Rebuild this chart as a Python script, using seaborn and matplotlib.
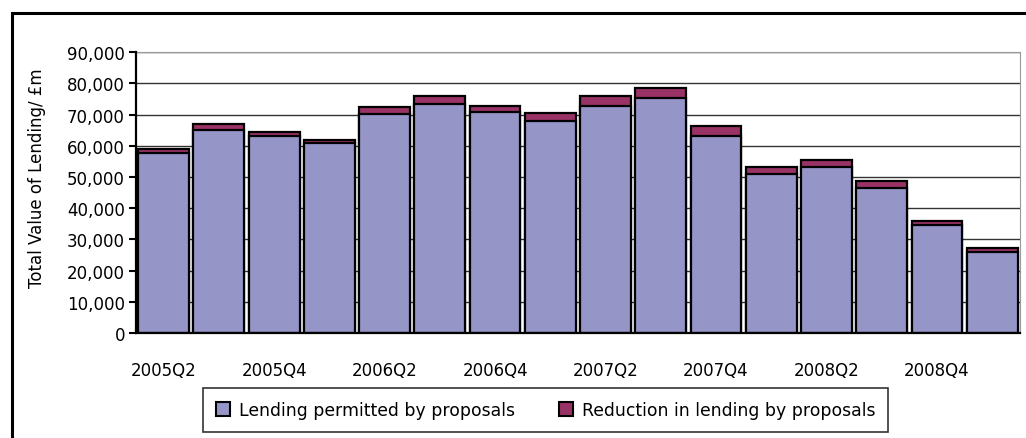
import numpy as np
import pandas as pd
import seaborn as sns
import matplotlib.pyplot as plt
from matplotlib.patches import Patch, Rectangle
from matplotlib.ticker import FuncFormatter

quarters = ["2005Q2", "2005Q3", "2005Q4", "2006Q1", "2006Q2", "2006Q3", "2006Q4", "2007Q1",
            "2007Q2", "2007Q3", "2007Q4", "2008Q1", "2008Q2", "2008Q3", "2008Q4", "2009Q1"]
permitted = [57700, 65000, 63100, 60800, 70100, 73400, 70900, 67800,
             72800, 75300, 63200, 51100, 53300, 46500, 34500, 26000]
reduction = [1200, 1900, 1300, 1200, 2200, 2500, 1900, 2600,
             3100, 3200, 3100, 2200, 2300, 2200, 1400, 1200]

df = pd.DataFrame({"quarter": quarters, "permitted": permitted, "reduction": reduction})
df["total"] = df["permitted"] + df["reduction"]

c_perm = "#9595c8"
c_red = "#993366"

sns.set_style("white")
plt.rcParams["font.family"] = ["DejaVu Sans"]
plt.rcParams["text.color"] = "black"
plt.rcParams["xtick.color"] = "black"
plt.rcParams["ytick.color"] = "black"
plt.rcParams["axes.labelcolor"] = "black"

fig = plt.figure(figsize=(10.26, 4.39), dpi=100)
ax = fig.add_axes([0.1326, 0.239, 0.994 - 0.1326, 0.879 - 0.239])

sns.barplot(data=df, x="quarter", y="total", color=c_red, edgecolor="black",
            linewidth=1.6, width=0.92, saturation=1, ax=ax, zorder=3)
sns.barplot(data=df, x="quarter", y="permitted", color=c_perm, edgecolor="black",
            linewidth=1.6, width=0.92, saturation=1, ax=ax, zorder=4)

ax.set_xlim(-0.5, len(quarters) - 0.5)
ax.set_ylim(0, 90000)
ax.set_yticks(np.arange(0, 90001, 10000))
ax.yaxis.set_major_formatter(FuncFormatter(lambda v, p: f"{int(v):,}"))
ax.yaxis.grid(True, color="#333333", lw=1, zorder=0)
ax.set_axisbelow(True)

ax.set_xticks(range(0, len(quarters), 2))
ax.set_xticklabels(quarters[::2])
ax.set_xticks(np.arange(-0.5, len(quarters), 1), minor=True)
ax.tick_params(axis="x", which="major", length=0, pad=20, labelsize=12)
ax.tick_params(axis="x", which="minor", length=6, width=1.5, color="black", direction="out")
ax.tick_params(axis="y", length=5, width=1.5, color="black", direction="out", labelsize=12, pad=3)
ax.tick_params(left=True, bottom=True)

ax.set_xlabel("")
ax.set_ylabel("Total Value of Lending/ £m", fontsize=12)
ax.yaxis.set_label_coords(-0.102, 0.555)

for s in ["left", "bottom"]:
    ax.spines[s].set_color("black")
    ax.spines[s].set_linewidth(1.6)
ax.spines["right"].set_color("#999999")
ax.spines["top"].set_color("#999999")
ax.spines["left"].set_zorder(5)
ax.spines["bottom"].set_zorder(5)

handles = [Patch(facecolor=c_perm, edgecolor="black", lw=1.5, label="Lending permitted by proposals"),
           Patch(facecolor=c_red, edgecolor="black", lw=1.5, label="Reduction in lending by proposals")]
leg = fig.legend(handles=handles, loc="center", bbox_to_anchor=(0.532, 0.064), ncol=2,
                 frameon=True, fancybox=False, edgecolor="black", fontsize=12.4,
                 handlelength=0.8, handleheight=0.8, handletextpad=0.5, columnspacing=2.6,
                 borderpad=0.75, borderaxespad=0)
leg.get_frame().set_linewidth(1.2)

fig.patches.append(Rectangle((12 / 1026, -0.1), 1.2, 1 - 14 / 439 + 0.1,
                             transform=fig.transFigure, fill=False, edgecolor="black", lw=2.2))

fig.savefig("out.png", dpi=100)
